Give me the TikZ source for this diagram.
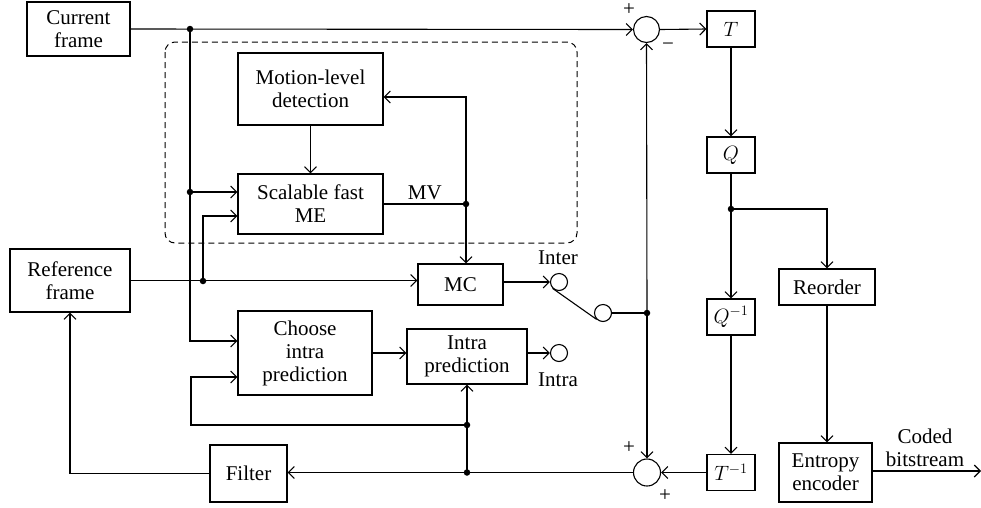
\documentclass[tikz,border=0pt]{standalone}
\usepackage{fontspec}
\setmainfont{Liberation Serif}
\usetikzlibrary{arrows.meta}

\begin{document}
\begin{tikzpicture}[x=1pt,y=-1pt,
  every node/.style={font=\fontsize{21}{23}\selectfont},
  blk/.style={draw, line width=1.1pt, inner sep=0pt, align=center},
  sumnode/.style={draw, circle, line width=1.1pt, inner sep=0pt, minimum size=26pt},
  port/.style={draw, circle, line width=1.1pt, inner sep=0pt, minimum size=17pt},
  wire/.style={line width=1.1pt},
  arr/.style={wire, -{Straight Barb[length=6pt,width=12pt]}},
  dot/.style={circle, fill, inner sep=0pt, minimum size=6.5pt},
  lbl/.style={inner sep=0pt, align=center}
]
\useasboundingbox (0,0) rectangle (981,507);

% processing blocks
\node[blk, minimum width=103pt, minimum height=54pt] (cur)  at (78.5,29)    {Current\\frame};
\node[blk, minimum width=120pt, minimum height=63pt] (ref)  at (70,280.5)   {Reference\\frame};
\node[blk, minimum width=145pt, minimum height=72pt] (mld)  at (310.5,89)   {Motion-level\\detection};
\node[blk, minimum width=145pt, minimum height=60pt] (sme)  at (310.5,204)  {Scalable fast\\ME};
\node[blk, minimum width=85pt,  minimum height=41pt] (mc)   at (460.5,284.5) {MC};
\node[blk, minimum width=134pt, minimum height=84pt] (cip)  at (305,353)    {Choose\\intra\\prediction};
\node[blk, minimum width=120pt, minimum height=55pt] (ip)   at (467,356.5)  {Intra\\prediction};
\node[blk, minimum width=77pt,  minimum height=57pt] (filt) at (248.5,473.5) {Filter};
\node[blk, minimum width=48pt,  minimum height=36pt] (T)    at (731,29)     {$T$};
\node[blk, minimum width=48pt,  minimum height=36pt] (Q)    at (731,155)    {$Q$};
\node[blk, minimum width=48pt,  minimum height=36pt] (Qi)   at (731,317)    {$Q^{-1}$};
\node[blk, minimum width=48pt,  minimum height=36pt] (Ti)   at (731,472.5)  {$T^{-1}$};
\node[blk, minimum width=96pt,  minimum height=36pt] (reo)  at (827,287)    {Reorder};
\node[blk, minimum width=93pt,  minimum height=59pt] (ent)  at (825.5,472.5) {Entropy\\encoder};

% adders and switch contacts
\node[sumnode] (s1) at (646.5,29.5) {};
\node[sumnode, minimum size=27pt] (s2) at (647,472.5) {};
\node[port] (pInter) at (559,282) {};
\node[port] (pSw)    at (603,313) {};
\node[port] (pIntra) at (559,353) {};

% junction dots
\node[dot] (j1) at (190,29) {};
\node[dot] (j2) at (190,192) {};
\node[dot] (j3) at (203,281) {};
\node[dot] (j4) at (466,204) {};
\node[dot] (j5) at (647,313) {};
\node[dot] (j6) at (731,209) {};
\node[dot] (j7) at (467,472.5) {};
\node[dot] (j8) at (467,425) {};
\coordinate (cL) at (191,425);
\coordinate (out) at (981,471);

% motion estimation group
\draw[line width=1pt, dash pattern=on 6pt off 4pt, rounded corners=10pt]
  (165,42) rectangle (577,243);

% connectors
\draw[arr] (cur.east) -- (s1.west);
\draw[arr] (j1.center) |- ([yshift=12pt]cip.west);
\draw[arr] (j2.center) -- (j2 -| sme.west);
\draw[arr] (ref.east) -- (ref.east -| mc.west);
\draw[arr] (j3.center) |- ([yshift=-12pt]sme.west);
\draw[arr] (mld) -- (sme);
\draw[wire] (sme.east) -- (j4.center)
  node[midway, above=4pt, inner sep=0pt] {MV};
\draw[arr] (j4.center) |- ([yshift=-8pt]mld.east);
\draw[arr] (j4.center) -- (j4 |- mc.north);
\draw[arr] (mc.east |- pInter) -- (pInter.west);
\draw[wire] (pInter.south west) -- (pSw.south west);
\draw[wire] (pSw.east) -- (j5.center);
\draw[arr] (j5.center) -- (s1.south);
\draw[arr] (j5.center) -- (s2.north);
\draw[arr] (s1.east) -- (T.west);
\draw[arr] (T) -- (Q);
\draw[arr] (Q.south) -- (Qi.north);
\draw[arr] (j6.center) -| (reo.north);
\draw[arr] (Qi) -- (Ti);
\draw[arr] (Ti.west) -- (s2.east);
\draw[arr] (s2.west) -- (s2.west -| filt.east);
\draw[arr] (filt.west) -| (ref.south);
\draw[arr] (j7.center) -- (j7 |- ip.south);
\draw[arr] (j8.center) -- (cL) |- ([yshift=-24pt]cip.west);
\draw[arr] (cip.east) -- (cip.east -| ip.west);
\draw[arr] (ip.east |- pIntra) -- (pIntra.west);
\draw[arr] (reo.south) -- (reo.south |- ent.north);
\draw[arr] (ent.east |- out) -- (out);

% signs and labels
\node[lbl] at (629,10)  {+};
\node[lbl] at (668,47)  {−};
\node[lbl] at (629,448) {+};
\node[lbl] at (665,496) {+};
\node[lbl] at (558,258) {Inter};
\node[lbl] at (558,380) {Intra};
\node[lbl] at (925,448) {Coded\\bitstream};
\end{tikzpicture}
\end{document}
